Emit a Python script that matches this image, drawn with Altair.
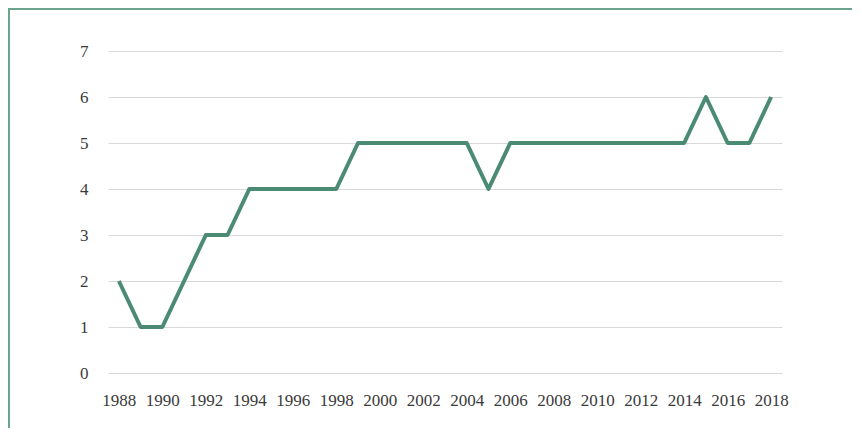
import altair as alt
import pandas as pd

years = list(range(1988, 2019))
values = [2, 1, 1, 2, 3, 3, 4, 4, 4, 4, 4, 5, 5, 5, 5, 5, 5, 4, 5, 5,
          5, 5, 5, 5, 5, 5, 5, 6, 5, 5, 6]
x_ticks = list(range(1988, 2019, 2))
y_ticks = list(range(0, 8))

df = pd.DataFrame({"year": years, "value": values})

FONT = "'Liberation Serif', 'DejaVu Serif', serif"

line = alt.Chart(df).mark_line(
    color="#4b8b73", strokeWidth=4, strokeJoin="round"
).encode(
    x=alt.X("year:Q",
            scale=alt.Scale(domain=[1987.5, 2018.5], nice=False, zero=False),
            axis=alt.Axis(values=x_ticks, format="d", title=None, grid=False,
                          domain=False, ticks=False, labelPadding=19,
                          labelFontSize=17, labelFont=FONT, labelColor="#3a3a3a",
                          labelFlush=False, labelOverlap=False)),
    y=alt.Y("value:Q",
            scale=alt.Scale(domain=[0, 7], nice=False),
            axis=alt.Axis(values=y_ticks, title=None, grid=True, gridColor="#d9d9d9",
                          gridWidth=1, domain=False, ticks=False, labelPadding=20,
                          labelFontSize=17, labelFont=FONT, labelColor="#3a3a3a")),
)

border_top = alt.Chart(df).mark_rule(color="#6aa48d", strokeWidth=2).encode(
    x=alt.value(-100), x2=alt.value(760), y=alt.value(-42)
)
border_left = alt.Chart(df).mark_rule(color="#6aa48d", strokeWidth=2).encode(
    x=alt.value(-99), y=alt.value(-43), y2=alt.value(390)
)

chart = alt.layer(line, border_top, border_left).properties(
    width=674, height=322,
    autosize=alt.AutoSizeParams(type="none"),
    padding={"left": 100, "top": 43, "right": 70, "bottom": 55},
).configure(background="white", view=alt.ViewConfig(stroke=None))

chart.save("out.html", embed_options={"renderer": "svg", "actions": False})
